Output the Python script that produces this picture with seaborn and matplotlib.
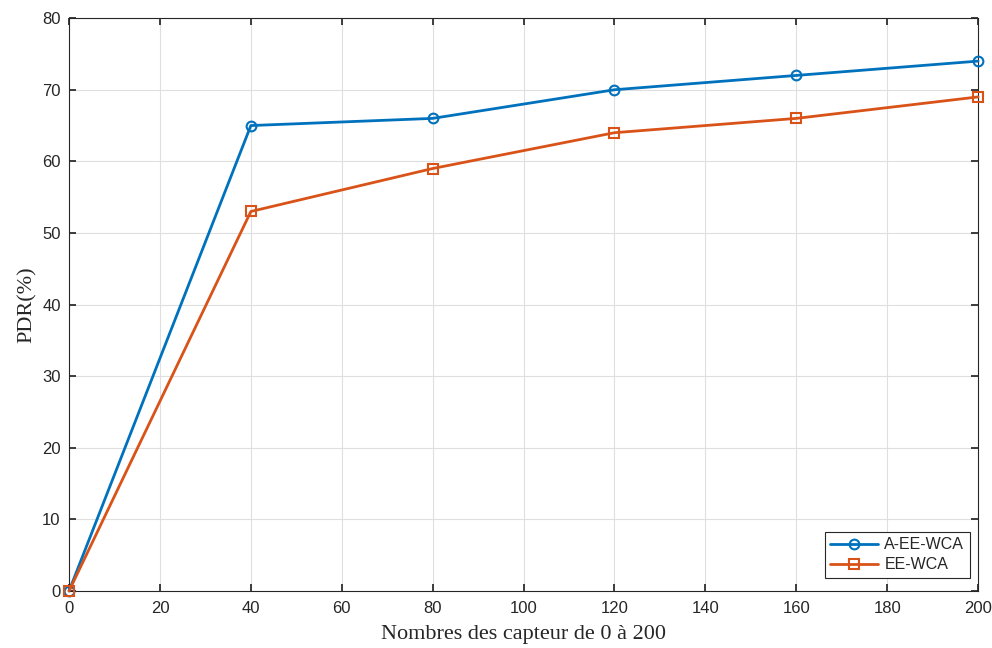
import matplotlib
matplotlib.use("Agg")
import matplotlib.pyplot as plt
import seaborn as sns
import pandas as pd

x_values = [0, 40, 80, 120, 160, 200]
a_ee_wca = [0, 65, 66, 70, 72, 74]
ee_wca = [0, 53, 59, 64, 66, 69]
series_names = ["A-EE-WCA", "EE-WCA"]

df = pd.DataFrame({
    "x": x_values * 2,
    "y": a_ee_wca + ee_wca,
    "series": [series_names[0]] * len(x_values) + [series_names[1]] * len(x_values),
})

sns.set_theme(style="whitegrid")
plt.rcParams['font.family'] = ['Liberation Sans', 'DejaVu Sans']

fig = plt.figure(figsize=(9.92, 6.48), dpi=100)
ax = fig.add_axes([0.0696, 0.088, 0.9164, 0.884])

colors = {"A-EE-WCA": "#0072BD", "EE-WCA": "#D95319"}
sns.lineplot(data=df, x="x", y="y", hue="series", style="series",
             markers={"A-EE-WCA": "o", "EE-WCA": "s"}, dashes=False,
             palette=colors, linewidth=2, markersize=7,
             markeredgewidth=1.5, ax=ax, legend=False)
lines = ax.get_lines()[:2]
for line, name in zip(lines, series_names):
    line.set_markerfacecolor("none")
    line.set_markeredgecolor(colors[name])
    line.set_clip_on(False)
    line.set_zorder(5)

ax.set_xlim(0, 200)
ax.set_ylim(0, 80)
ax.set_xticks(range(0, 201, 20))
ax.set_yticks(range(0, 81, 10))
ax.grid(True, color="#dfdfdf", linewidth=0.8)
for s in ax.spines.values():
    s.set_visible(True)
    s.set_color("#262626")
    s.set_linewidth(0.8)
ax.tick_params(direction="in", length=5, color="#262626", labelsize=12,
               labelcolor="#262626", top=True, right=True, bottom=True, left=True)
ax.tick_params(axis="x", pad=7)
ax.tick_params(axis="y", pad=6)
ax.set_xlabel("Nombres des capteur de 0 à 200", family=["Liberation Serif", "DejaVu Serif"],
              fontsize=16, color="#262626", labelpad=7)
ax.set_ylabel("PDR(%)", family=["Liberation Serif", "DejaVu Serif"], fontsize=16,
              color="#262626", labelpad=4)

leg = ax.legend(handles=lines, labels=series_names, loc="lower right",
                bbox_to_anchor=(0.991, 0.023), borderaxespad=0, fontsize=11.5,
                frameon=True, fancybox=False, edgecolor="#262626", borderpad=0.35,
                handlelength=3.0, handletextpad=0.4, labelspacing=0.3, framealpha=1)
leg.get_frame().set_linewidth(0.8)

fig.savefig("out.png", dpi=100)
